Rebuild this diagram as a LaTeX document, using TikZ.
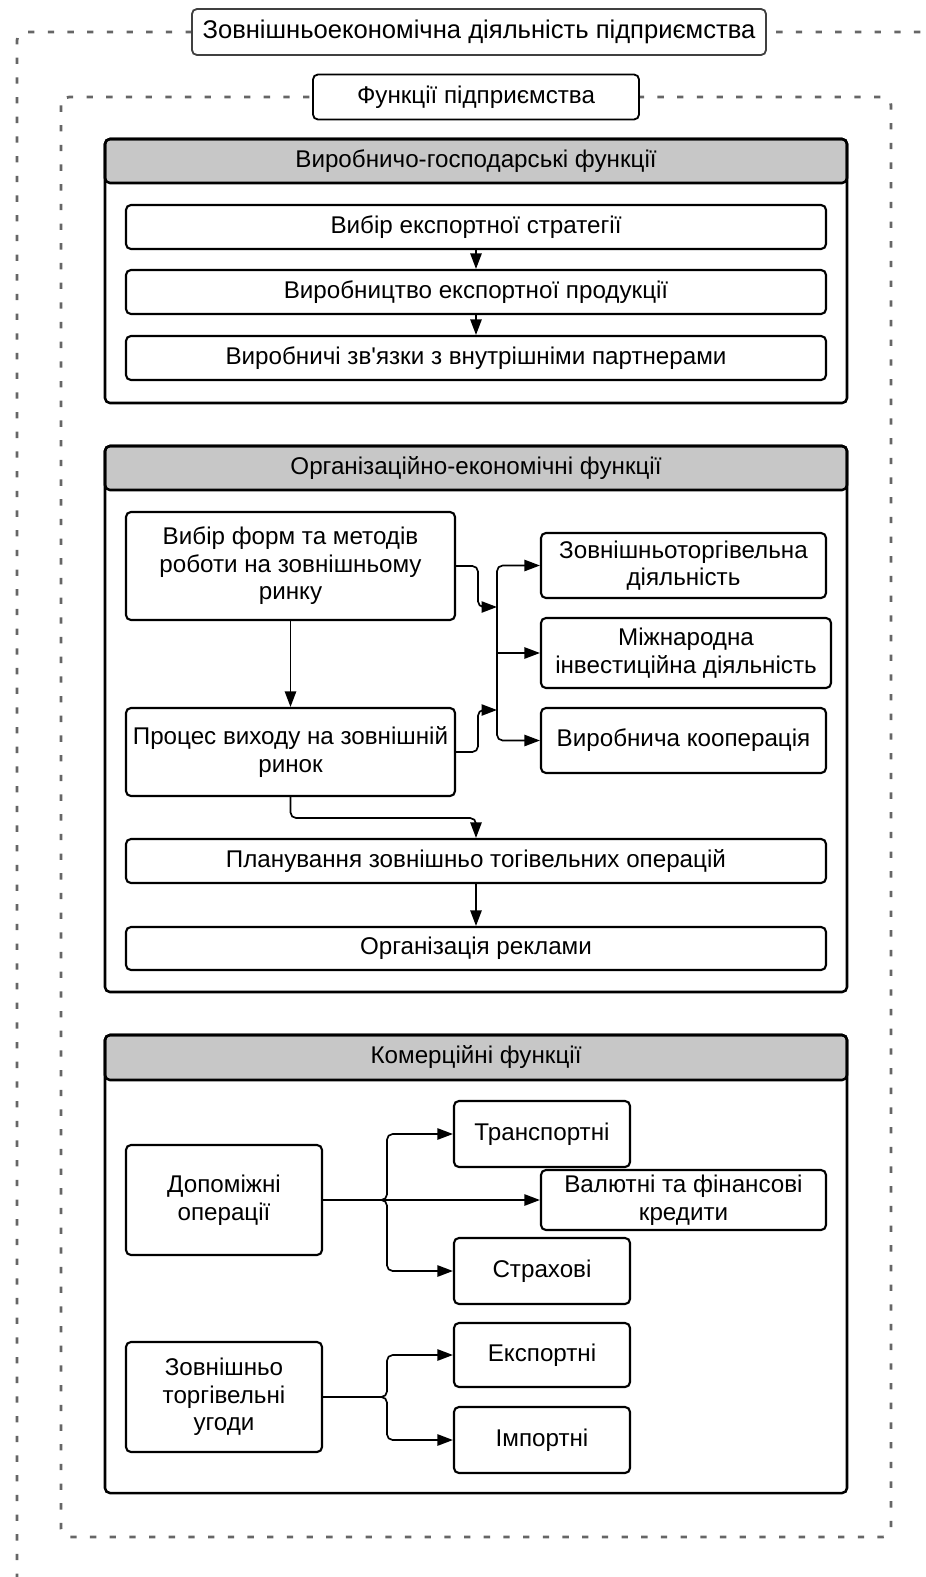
\documentclass[tikz,border=0pt]{standalone}
\usepackage{fontspec}
\setmainfont{Liberation Sans}
\usepackage{tikz}
\usetikzlibrary{arrows.meta}
\usetikzlibrary{calc}

\begin{document}
\begin{tikzpicture}[x=0.025cm, y=-0.025cm,
    font=\fontsize{17.2}{19.6}\selectfont,
    wh/.style 2 args={minimum width=#1*0.025cm, minimum height=#2*0.025cm},
    frame/.style={line width=2pt, black!60, dash pattern=on 4.5pt off 9.5pt, rounded corners=6pt},
    titlebox/.style={draw, fill=white, line width=1.3pt, rounded corners=3.5pt, inner sep=1pt},
    sechead/.style={draw, fill=black!22, line width=1.8pt, rounded corners=3.5pt, inner sep=1pt},
    secbody/.style={line width=1.8pt, rounded corners=3.5pt},
    fbox/.style={draw, fill=white, line width=1.5pt, rounded corners=3.5pt, align=center, inner sep=1pt},
    arr/.style={line width=1.2pt, rounded corners=4pt, -{Triangle[length=11pt, width=8pt]}}]
                        \useasboundingbox (0,0) rectangle (926,1577);
                        % outer and inner dashed frames
                        \draw[frame] (940,32) -- (17,32) -- (17,1590);
                        \draw[frame] (61,97) rectangle (891,1537);
                        \node[titlebox, draw=black!75, font=\fontsize{18.2}{20}\selectfont, wh={574}{46}] (zed) at (479,32) {Зовнішньоекономічна діяльність підприємства};
                        \node[titlebox, wh={326}{45}] (funk) at (476,97) {Функції підприємства};

                        % Production functions
                        \node[sechead, wh={742}{44}] (hdA) at (476,161) {Виробничо-господарські функції};
                        \draw[secbody] (105,139) rectangle (847,403);
                        \node[fbox, wh={700}{44}] (strat) at (476,227) {Вибір експортної стратегії};
                        \node[fbox, wh={700}{44}] (vyrob) at (476,292) {Виробництво експортної продукції};
                        \node[fbox, wh={700}{44}] (zvyaz) at (476,358) {Виробничі зв\textquotesingle язки з внутрішніми партнерами};
                        \draw[arr] (strat) -- (vyrob);
                        \draw[arr] (vyrob) -- (zvyaz);

                        % Organisational functions
                        \node[sechead, wh={742}{44}] (hdB) at (476,468) {Організаційно-економічні функції};
                        \draw[secbody] (105,446) rectangle (847,992);
                        \node[fbox, wh={329}{108}] (vybir) at (290.5,566) {Вибір форм та методів\\роботи на зовнішньому\\ринку};
                        \node[fbox, wh={329}{88}] (proc) at (290.5,752) {Процес виходу на зовнішній\\ринок};
                        \node[fbox, wh={285}{65}] (torg) at (683.5,565.5) {Зовнішньоторгівельна\\діяльність};
                        \node[fbox, wh={290}{70}] (invest) at (686,653) {Міжнародна\\інвестиційна діяльність};
                        \node[fbox, wh={285}{65}] (koop) at (683.5,740.5) {Виробнича кооперація};
                        \node[fbox, wh={700}{44}] (plan) at (476,861) {Планування зовнішньо тогівельних операцій};
                        \node[fbox, wh={700}{43}] (rekl) at (476,948.5) {Організація реклами};
                        \coordinate (bus) at (497,653);
                        \coordinate (jA) at (478,607);
                        \coordinate (jB) at (478,710);
                        \draw[arr] (vybir) -- (proc);
                        \draw[arr] (vybir.east) -| (jA) -- (jA -| bus);
                        \draw[arr] (proc.east) -| (jB) -- (jB -| bus);
                        \draw[arr] (bus) |- (torg.west);
                        \draw[arr] (bus) -- (invest.west);
                        \draw[arr] (bus) |- (koop.west);
                        \draw[arr] (proc.south) -- ++(0,21) -| (plan.north);
                        \draw[arr] (plan) -- (rekl);

                        % Commercial functions
                        \node[sechead, wh={742}{45}] (hdC) at (476,1057.5) {Комерційні функції};
                        \draw[secbody] (105,1035) rectangle (847,1493);
                        \node[fbox, wh={196}{110}] (dopom) at (224,1200) {Допоміжні\\операції};
                        \node[fbox, wh={176}{66}] (transp) at (542,1134) {Транспортні};
                        \node[fbox, wh={285}{60}] (valut) at (683.5,1200) {Валютні та фінансові\\кредити};
                        \node[fbox, wh={176}{66}] (strakh) at (542,1271) {Страхові};
                        \node[fbox, wh={196}{110}] (ugody) at (224,1397) {Зовнішньо\\торгівельні\\угоди};
                        \node[fbox, wh={176}{64}] (eksp) at (542,1355) {Експортні};
                        \node[fbox, wh={176}{66}] (imp) at (542,1440) {Імпортні};
                        \coordinate (busC) at (387,1200);
                        \draw[arr] (dopom) -- (valut);
                        \draw[arr] (dopom.east) -- (busC) |- (transp.west);
                        \draw[arr] (dopom.east) -- (busC) |- (strakh.west);
                        \draw[arr] (ugody.east) -- (busC |- ugody.east) |- (eksp.west);
                        \draw[arr] (ugody.east) -- (busC |- ugody.east) |- (imp.west);
                    \end{tikzpicture}
\end{document}
